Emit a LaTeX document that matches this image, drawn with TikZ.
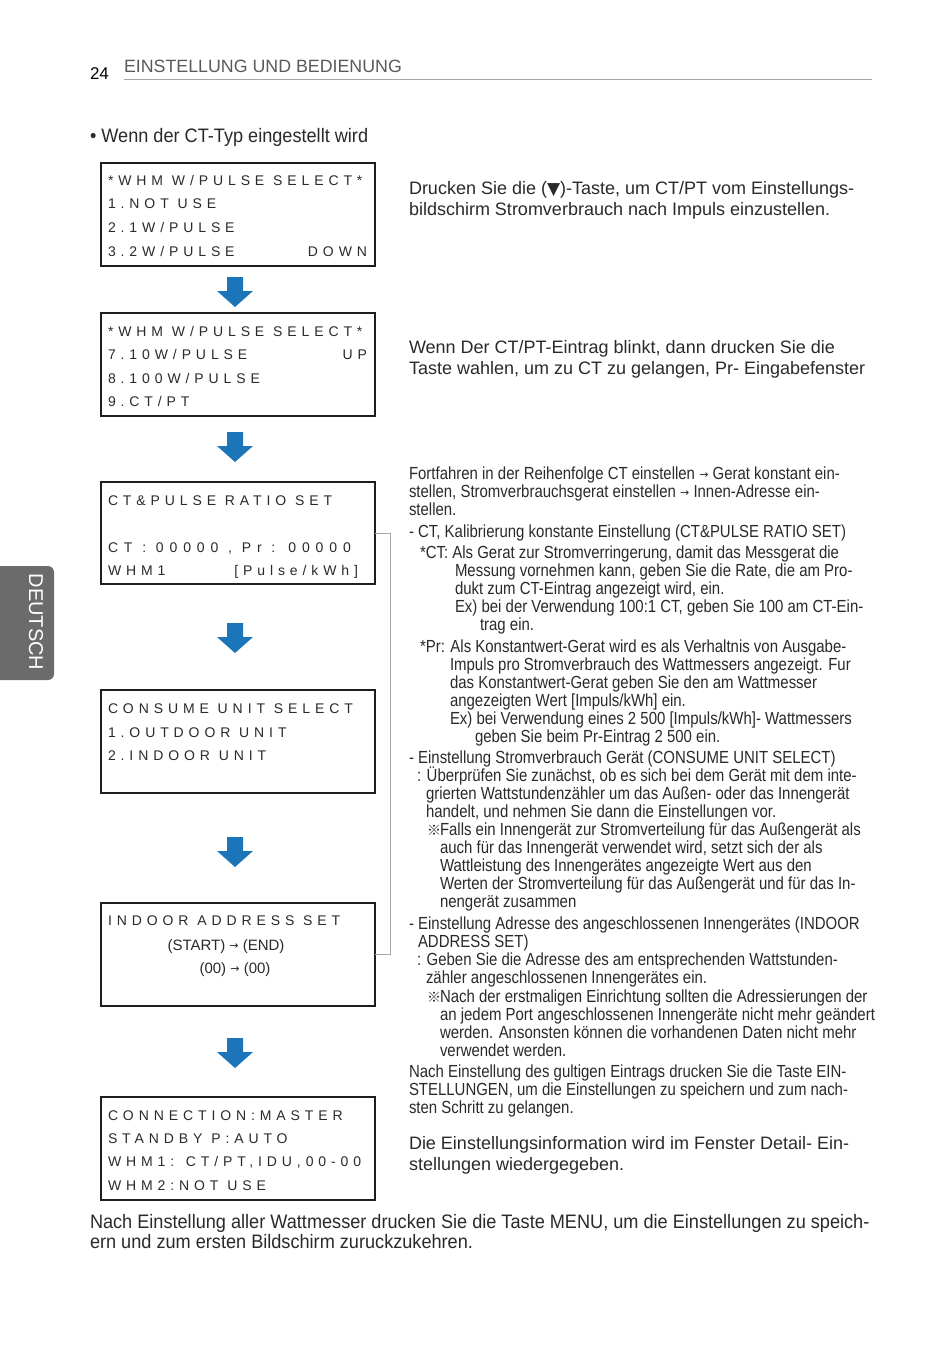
\documentclass[tikz,border=0pt]{standalone}
\usepackage{fontspec}
\setmainfont{Liberation Sans}
\newfontfamily\cond[FakeStretch=0.855]{Liberation Sans}
\newfontfamily\condb[FakeStretch=0.93]{Liberation Sans}
\newfontfamily\lcd[LetterSpace=35]{Liberation Sans}
\newfontfamily\lcdw[LetterSpace=42]{Liberation Sans}
\newfontfamily\symf{DejaVu Sans}
\newfontfamily\cjkf{Noto Sans CJK JP}
\definecolor{txt}{HTML}{2A2A2A}
\definecolor{boxline}{HTML}{1E1E1E}
\definecolor{arrowblue}{HTML}{1C75B8}
\definecolor{tabgray}{HTML}{6B6B6B}
\definecolor{headgray}{HTML}{5A5A5A}
\newcommand\arr{\raisebox{1pt}{\symf\fontsize{11}{11}\selectfont →}}
\newcommand\refm{{\cjkf\fontsize{14}{14}\selectfont ※}}
\newcommand\tri{\raisebox{0pt}{\symf\fontsize{17}{17}\selectfont ▼}}
\newcommand\bluearrowat[1]{%
  \begin{scope}[shift={(235,#1)}]
    \fill[arrowblue] (-8,0) -- (8,0) -- (8,14) -- (18,14) -- (0,30) -- (-18,14) -- (-8,14) -- cycle;
  \end{scope}}
\begin{document}
\begin{tikzpicture}[x=1pt,y=-1pt,
  every node/.style={inner sep=0pt, outer sep=0pt},
  ctext/.style={font=\cond\fontsize{17.5}{18}\selectfont, anchor=base west, text=txt},
  etext/.style={font=\condb\fontsize{19.5}{20}\selectfont, anchor=base west, text=txt},
  ntext/.style={font=\fontsize{18}{20}\selectfont, anchor=base west, text=txt},
  lcdtext/.style={font=\lcd\fontsize{14}{16}\selectfont, anchor=base west, text=txt},
  lcdright/.style={font=\lcd\fontsize{14}{16}\selectfont, anchor=base east, text=txt},
  lcdplain/.style={font=\fontsize{15}{16}\selectfont, anchor=base, text=txt},
  lcdbox/.style={draw=boxline, line width=2pt, minimum width=274pt, anchor=north west},
  bracket/.style={draw=gray!70, line width=0.8pt}]
\useasboundingbox (0,0) rectangle (950,1348);
\fill[white] (0,0) rectangle (950,1348);

% header
\node[font=\fontsize{17}{20}\selectfont, anchor=base west] (pnum) at (90,80) {24};
\node[font=\fontsize{17.8}{20}\selectfont, anchor=base west, text=headgray] (htitle) at (124,73) {EINSTELLUNG UND BEDIENUNG};
\draw[gray!70, line width=1pt] (124,80) -- (872,80);

% side tab
\fill[tabgray, rounded corners=6pt] (-10,566) rectangle (54,680);
\node[font=\fontsize{20}{20}\selectfont, text=white, rotate=-90] (tab) at (36,622) {DEUTSCH};

% bullet title
\node[etext] (title) at (90,143) {\textbullet\ Wenn der CT-Typ eingestellt wird};

% boxes
\node[lcdbox, minimum height=103pt] (b1) at (101,163) {};
\node[lcdbox, minimum height=103pt] (b2) at (101,313) {};
\node[lcdbox, minimum height=102pt] (b3) at (101,482) {};
\node[lcdbox, minimum height=103pt] (b4) at (101,690) {};
\node[lcdbox, minimum height=103pt] (b5) at (101,903) {};
\node[lcdbox, minimum height=103pt] (b6) at (101,1097) {};

% box 1
\node[lcdtext] (b1l1) at (108,186) {*WHM W/PULSE SELECT*};
\node[lcdtext] (b1l2) at (108,209) {1.NOT USE};
\node[lcdtext] (b1l3) at (108,233) {2.1W/PULSE};
\node[lcdtext] (b1l4) at (108,256) {3.2W/PULSE};
\node[lcdright] (b1r4) at (367,256) {DOWN};
% box 2
\node[lcdtext] (b2l1) at (108,336) {*WHM W/PULSE SELECT*};
\node[lcdtext] (b2l2) at (108,359) {7.10W/PULSE};
\node[lcdright] (b2r2) at (367,359) {UP};
\node[lcdtext] (b2l3) at (108,383) {8.100W/PULSE};
\node[lcdtext] (b2l4) at (108,406) {9.CT/PT};
% box 3
\node[lcdtext] (b3l1) at (108,505) {CT\&PULSE RATIO SET};
\node[lcdtext, font=\lcdw\fontsize{14}{16}\selectfont] (b3l3) at (108,552) {CT : 00000 , Pr : 00000};
\node[lcdtext] (b3l4) at (108,575) {WHM1};
\node[lcdright] (b3r4) at (358,575) {[Pulse/kWh]};
% box 4
\node[lcdtext] (b4l1) at (108,713) {CONSUME UNIT SELECT};
\node[lcdtext] (b4l2) at (108,737) {1.OUTDOOR UNIT};
\node[lcdtext] (b4l3) at (108,760) {2.INDOOR UNIT};
% box 5
\node[lcdtext] (b5l1) at (108,925) {INDOOR ADDRESS SET};
\node[lcdplain] (b5l2) at (226,950) {(START) \arr\ (END)};
\node[lcdplain] (b5l3) at (235,973) {(00) \arr\ (00)};
% box 6
\node[lcdtext] (b6l1) at (108,1120) {CONNECTION:MASTER};
\node[lcdtext] (b6l2) at (108,1143) {STANDBY P:AUTO};
\node[lcdtext] (b6l3) at (108,1166) {WHM1: CT/PT,IDU,00-00};
\node[lcdtext] (b6l4) at (108,1190) {WHM2:NOT USE};

% blue arrows
\bluearrowat{277}
\bluearrowat{432}
\bluearrowat{623}
\bluearrowat{837}
\bluearrowat{1038}

% bracket
\draw[bracket] (b3.east) -- ++(15,0) |- (b5.east);

% right text A
\node[ntext] (ta1) at (409,195) {Drucken Sie die (\tri)-Taste, um CT/PT vom Einstellungs-};
\node[ntext] (ta2) at (409,216) {bildschirm Stromverbrauch nach Impuls einzustellen.};
% right text B
\node[ntext] (tb1) at (409,353) {Wenn Der CT/PT-Eintrag blinkt, dann drucken Sie die};
\node[ntext] (tb2) at (409,374) {Taste wahlen, um zu CT zu gelangen, Pr- Eingabefenster};

% right text C
\node[ctext] (c01) at (409,479) {Fortfahren in der Reihenfolge CT einstellen \arr\ Gerat konstant ein-};
\node[ctext] (c02) at (409,497) {stellen, Stromverbrauchsgerat einstellen \arr\ Innen-Adresse ein-};
\node[ctext] (c03) at (409,515) {stellen.};
\node[ctext] (c04) at (409,537) {- CT, Kalibrierung konstante Einstellung (CT\&PULSE RATIO SET)};
\node[ctext] (c05) at (420,558) {*CT: Als Gerat zur Stromverringerung, damit das Messgerat die};
\node[ctext] (c06) at (455,576) {Messung vornehmen kann, geben Sie die Rate, die am Pro-};
\node[ctext] (c07) at (455,594) {dukt zum CT-Eintrag angezeigt wird, ein.};
\node[ctext] (c08) at (455,612) {Ex) bei der Verwendung 100:1 CT, geben Sie 100 am CT-Ein-};
\node[ctext] (c09) at (480,630) {trag ein.};
\node[ctext] (c10) at (420,652) {*Pr: Als Konstantwert-Gerat wird es als Verhaltnis von Ausgabe-};
\node[ctext] (c11) at (450,670) {Impuls pro Stromverbrauch des Wattmessers angezeigt. Fur};
\node[ctext] (c12) at (450,688) {das Konstantwert-Gerat geben Sie den am Wattmesser};
\node[ctext] (c13) at (450,706) {angezeigten Wert [Impuls/kWh] ein.};
\node[ctext] (c14) at (450,724) {Ex) bei Verwendung eines 2 500 [Impuls/kWh]- Wattmessers};
\node[ctext] (c15) at (475,742) {geben Sie beim Pr-Eintrag 2 500 ein.};
\node[ctext] (c16) at (409,763) {- Einstellung Stromverbrauch Gerät (CONSUME UNIT SELECT)};
\node[ctext] (c17) at (417,781) {: Überprüfen Sie zunächst, ob es sich bei dem Gerät mit dem inte-};
\node[ctext] (c18) at (426,799) {grierten Wattstundenzähler um das Außen- oder das Innengerät};
\node[ctext] (c19) at (426,817) {handelt, und nehmen Sie dann die Einstellungen vor.};
\node[ctext] (c20m) at (427,835) {\refm};
\node[ctext] (c20) at (440,835) {Falls ein Innengerät zur Stromverteilung für das Außengerät als};
\node[ctext] (c21) at (440,853) {auch für das Innengerät verwendet wird, setzt sich der als};
\node[ctext] (c22) at (440,871) {Wattleistung des Innengerätes angezeigte Wert aus den};
\node[ctext] (c23) at (440,889) {Werten der Stromverteilung für das Außengerät und für das In-};
\node[ctext] (c24) at (440,907) {nengerät zusammen};
\node[ctext] (c25) at (409,929) {- Einstellung Adresse des angeschlossenen Innengerätes (INDOOR};
\node[ctext] (c26) at (418,947) {ADDRESS SET)};
\node[ctext] (c27) at (417,965) {: Geben Sie die Adresse des am entsprechenden Wattstunden-};
\node[ctext] (c28) at (426,983) {zähler angeschlossenen Innengerätes ein.};
\node[ctext] (c29m) at (427,1002) {\refm};
\node[ctext] (c29) at (440,1002) {Nach der erstmaligen Einrichtung sollten die Adressierungen der};
\node[ctext] (c30) at (440,1020) {an jedem Port angeschlossenen Innengeräte nicht mehr geändert};
\node[ctext] (c31) at (440,1038) {werden. Ansonsten können die vorhandenen Daten nicht mehr};
\node[ctext] (c32) at (440,1056) {verwendet werden.};
\node[ctext] (c33) at (409,1077) {Nach Einstellung des gultigen Eintrags drucken Sie die Taste EIN-};
\node[ctext] (c34) at (409,1095) {STELLUNGEN, um die Einstellungen zu speichern und zum nach-};
\node[ctext] (c35) at (409,1113) {sten Schritt zu gelangen.};

% right text D
\node[ntext] (td1) at (409,1149) {Die Einstellungsinformation wird im Fenster Detail- Ein-};
\node[ntext] (td2) at (409,1170) {stellungen wiedergegeben.};

% bottom text E
\node[etext] (te1) at (90,1228) {Nach Einstellung aller Wattmesser drucken Sie die Taste MENU, um die Einstellungen zu speich-};
\node[etext] (te2) at (90,1248) {ern und zum ersten Bildschirm zuruckzukehren.};
\end{tikzpicture}
\end{document}
